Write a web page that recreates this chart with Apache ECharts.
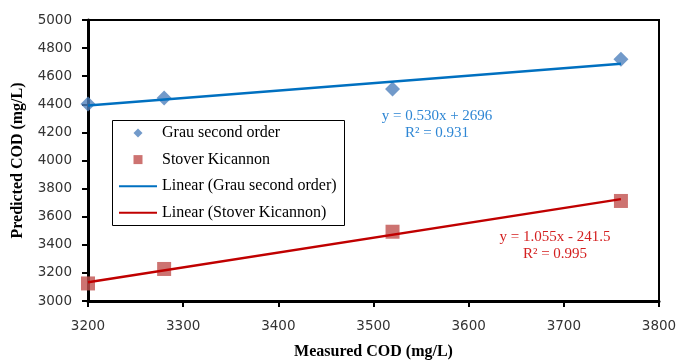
<!DOCTYPE html>
<html><head><meta charset="utf-8">
<script src="https://cdn.jsdelivr.net/npm/echarts@6/dist/echarts.min.js"></script>
<style>html,body{margin:0;padding:0;background:#fff}#c{width:677px;height:361px}</style>
</head><body><div id="c"></div>
<script>
var measured = [3200, 3280, 3520, 3760];
var grauValues = [4402, 4445, 4509, 4720];
var stoverValues = [3125, 3228, 3493, 3712];
var trendX = [3200, 3760];
var grauTrend = [4392, 4689];
var stoverTrend = [3134, 3725];
var grauEq = ['y = 0.530x + 2696', 'R² = 0.931'];
var stoverEq = ['y = 1.055x - 241.5', 'R² = 0.995'];

function pairs(xs, ys){ return xs.map(function(x,i){return [x, ys[i]];}); }

var chart = echarts.init(document.getElementById('c'), null, {renderer:'canvas'});
var serif = '"Liberation Serif", "DejaVu Serif", serif';
var lineIcon = 'path://M0,0H38V2H0Z';
chart.setOption({
  animation:false,
  backgroundColor:'#fff',
  grid:{left:88, right:18, top:20, bottom:60, show:true, borderColor:'#000', borderWidth:2,
    containLabel:false, outerBoundsMode:'none'},
  xAxis:{type:'value', min:3200, max:3800, interval:100,
    name:'Measured COD (mg/L)', nameLocation:'middle', nameGap:43,
    nameTextStyle:{fontFamily:serif, fontWeight:'bold', fontSize:16, color:'#000'},
    axisLine:{lineStyle:{color:'#000', width:3}},
    axisTick:{inside:false, length:6, lineStyle:{color:'#000', width:2}},
    axisLabel:{fontFamily:'"DejaVu Sans", sans-serif', fontSize:13.5, color:'#333', margin:18,
      formatter:function(v){return String(v);}},
    splitLine:{show:false}},
  yAxis:{type:'value', min:3000, max:5000, interval:200,
    name:'Predicted COD (mg/L)', nameLocation:'middle', nameGap:62,
    nameTextStyle:{fontFamily:serif, fontWeight:'bold', fontSize:16, color:'#000'},
    axisLine:{show:true, lineStyle:{color:'#000', width:3}},
    axisTick:{show:true, length:6, lineStyle:{color:'#000', width:2}},
    axisLabel:{fontFamily:'"DejaVu Sans", sans-serif', fontSize:13.5, color:'#333', margin:16,
      formatter:function(v){return String(v);}},
    splitLine:{show:false}},
  legend:{orient:'vertical', left:119, top:125, itemWidth:38, itemHeight:9, itemGap:10.6,
    padding:0, symbolKeepAspect:true,
    textStyle:{fontFamily:serif, fontSize:16, color:'#000', lineHeight:16},
    data:[
      {name:'Grau second order', icon:'path://M5,0L10,5L5,10L0,5Z'},
      {name:'Stover Kicannon', icon:'path://M0,0H10V10H0Z'},
      {name:'Linear (Grau second order)', icon:lineIcon},
      {name:'Linear (Stover Kicannon)', icon:lineIcon}
    ]},
  graphic:[
    {type:'rect', left:110, top:118, shape:{width:232, height:105}, style:{fill:'none', stroke:'#000', lineWidth:1}, z:0},
    {type:'text', x:437, y:108, style:{text:grauEq.join('\n'), fill:'#2e86d4', font:'15px "Liberation Serif", serif', align:'center', lineHeight:16.5}, z:10},
    {type:'text', x:555, y:229, style:{text:stoverEq.join('\n'), fill:'#d42020', font:'15px "Liberation Serif", serif', align:'center', lineHeight:16.5}, z:10}
  ],
  series:[
    {name:'Grau second order', type:'scatter', symbol:'diamond', symbolSize:15,
      itemStyle:{color:'#4f81bd'}, data:pairs(measured, grauValues), z:3},
    {name:'Stover Kicannon', type:'scatter', symbol:'rect', symbolSize:14,
      itemStyle:{color:'#c0504d'}, data:pairs(measured, stoverValues), z:3},
    {name:'Linear (Grau second order)', type:'line', symbol:'none',
      lineStyle:{color:'#0070c0', width:2.5}, itemStyle:{color:'#0070c0'}, data:pairs(trendX, grauTrend), z:4},
    {name:'Linear (Stover Kicannon)', type:'line', symbol:'none',
      lineStyle:{color:'#c00000', width:2.5}, itemStyle:{color:'#c00000'}, data:pairs(trendX, stoverTrend), z:4}
  ]
});
</script></body></html>
